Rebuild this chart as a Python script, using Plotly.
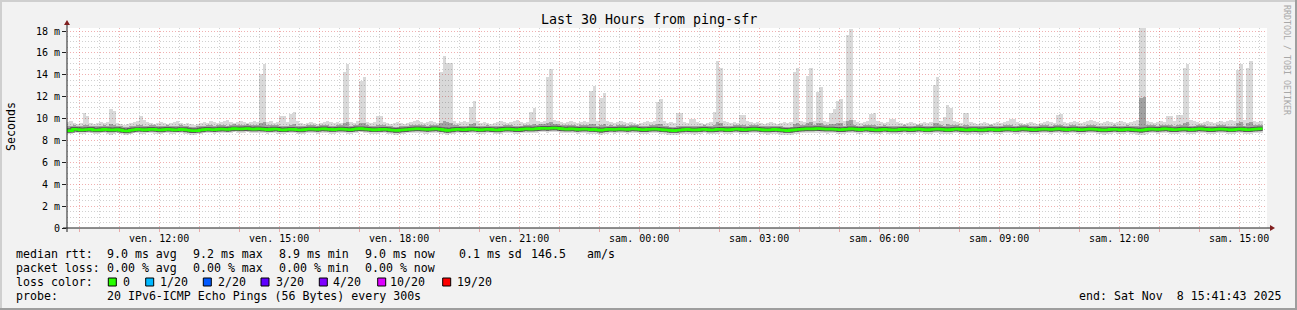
import plotly.graph_objects as go
import pandas as pd

# ---------------- data ----------------
title_text = "Last 30 Hours from ping-sfr"
range_start = "2025-11-07 09:41:43"
range_end = "2025-11-08 15:41:43"
first_bin = "2025-11-07 09:40:00"
step_s = 300

# median rtt per 5-min bin (ms)
med = [
    8.88, 8.90, 9.02, 9.00, 8.97, 8.98, 9.00, 9.02, 8.96, 8.95, 8.97, 9.01, 8.99, 8.96, 8.97, 9.00, 8.94, 8.88, 8.87, 8.93,
    8.98, 9.01, 9.00, 8.97, 8.99, 9.03, 9.01, 8.98, 8.96, 8.99, 9.02, 9.00, 8.97, 8.98, 9.01, 8.99, 8.95, 8.91, 8.88, 8.90,
    8.96, 8.99, 9.02, 9.00, 8.98, 9.01, 9.04, 9.03, 9.00, 9.05, 9.08, 9.06, 9.04, 9.07, 9.09, 9.05, 9.03, 9.06, 9.04, 9.02,
    8.99, 9.01, 9.04, 9.02, 8.98, 8.97, 9.00, 9.02, 9.01, 8.98, 8.96, 8.99, 9.03, 9.05, 9.02, 9.00, 9.04, 9.06, 9.03, 9.01,
    8.99, 9.02, 9.05, 9.03, 9.00, 8.98, 9.02, 9.06, 9.08, 9.05, 9.03, 9.00, 8.97, 8.99, 9.01, 9.03, 9.00, 8.96, 8.93, 8.92,
    8.95, 8.98, 9.00, 9.03, 9.05, 9.07, 9.04, 9.02, 9.00, 9.03, 9.06, 9.04, 9.01, 8.97, 8.92, 8.95, 8.99, 9.02, 9.00, 8.98,
    9.01, 9.04, 9.02, 8.99, 8.97, 9.00, 9.03, 9.01, 8.98, 8.96, 8.99, 9.02, 9.05, 9.03, 9.00, 8.98, 9.01, 9.04, 9.06, 9.03,
    9.05, 9.08, 9.10, 9.12, 9.09, 9.11, 9.14, 9.12, 9.08, 9.05, 9.03, 9.06, 9.04, 9.01, 9.03, 9.05, 9.02, 8.99, 9.01, 8.97,
    8.94, 8.98, 9.01, 9.03, 9.00, 9.02, 9.05, 9.03, 9.01, 9.04, 9.06, 9.03, 9.00, 8.98, 9.01, 9.03, 9.05, 9.02, 9.00, 8.97,
    8.95, 8.92, 8.90, 8.93, 8.96, 8.99, 9.01, 8.98, 8.95, 8.97, 9.00, 9.02, 8.99, 8.96, 8.98, 9.01, 9.03, 9.00, 8.97, 8.99,
    9.02, 9.04, 9.01, 8.98, 9.00, 9.03, 9.05, 9.02, 9.00, 8.97, 8.95, 8.98, 9.01, 8.99, 8.96, 8.93, 8.90, 8.94, 8.97, 9.00,
    9.02, 9.05, 9.07, 9.04, 9.06, 9.09, 9.07, 9.04, 9.02, 9.05, 9.03, 9.00, 8.98, 9.01, 9.03, 9.06, 9.04, 9.01, 8.99, 9.02,
    9.04, 9.01, 8.98, 8.96, 8.99, 9.02, 9.00, 8.97, 8.95, 8.98, 9.01, 9.03, 9.00, 8.98, 9.01, 9.04, 9.02, 8.99, 8.97, 9.00,
    9.03, 9.05, 9.02, 9.00, 8.97, 8.99, 9.02, 9.04, 9.01, 8.98, 8.96, 8.99, 9.01, 8.98, 8.95, 8.97, 9.00, 9.02, 8.99, 8.97,
    9.00, 9.03, 9.05, 9.02, 8.99, 9.01, 9.04, 9.06, 9.03, 9.01, 8.98, 9.00, 9.03, 9.05, 9.02, 9.00, 9.03, 9.06, 9.04, 9.01,
    8.99, 9.02, 9.04, 9.01, 8.98, 9.00, 9.03, 9.05, 9.03, 9.00, 8.97, 8.95, 8.98, 9.01, 9.03, 9.00, 8.97, 8.99, 9.02, 9.00,
    8.98, 8.96, 8.93, 8.97, 9.01, 9.04, 9.02, 9.00, 9.03, 9.06, 9.04, 9.01, 8.98, 9.00, 9.03, 9.05, 9.02, 8.99, 9.01, 9.04,
    9.06, 9.03, 9.01, 8.98, 9.00, 9.03, 9.05, 9.02, 9.00, 8.97, 8.99, 9.02, 9.04, 9.01, 8.98, 9.00, 9.03, 9.05, 9.07,
]

# highest ping per bin (ms)
p_max = [
    9.7, 9.8, 9.6, 9.5, 9.6, 10.5, 10.2, 9.6, 9.5, 9.6, 9.7, 9.6, 9.7, 10.9, 10.7, 9.6, 9.5, 9.4, 9.5, 9.6,
    9.7, 9.8, 10.2, 9.9, 9.7, 9.6, 9.5, 9.6, 9.7, 9.6, 9.5, 9.6, 9.7, 9.8, 9.6, 9.5, 9.6, 9.5, 9.4, 9.5,
    9.6, 9.7, 9.6, 9.8, 9.7, 9.6, 9.7, 9.8, 9.9, 9.7, 9.6, 9.7, 9.8, 9.7, 9.6, 9.7, 9.8, 9.7, 14.1, 15.0,
    9.7, 9.8, 9.6, 9.7, 10.2, 10.2, 9.7, 10.4, 10.6, 9.8, 9.6, 9.5, 9.6, 9.7, 9.6, 9.5, 9.6, 9.7, 9.8, 9.7,
    9.6, 9.7, 9.6, 14.3, 15.0, 9.7, 9.6, 9.8, 13.4, 13.8, 9.7, 9.6, 9.7, 10.2, 10.2, 9.7, 9.6, 9.5, 9.6, 9.7,
    9.6, 9.5, 9.6, 9.7, 9.8, 9.9, 9.7, 9.6, 9.7, 9.8, 9.7, 9.6, 14.3, 15.7, 15.1, 15.1, 9.8, 9.6, 9.7, 9.8,
    9.7, 11.1, 11.6, 9.8, 9.6, 9.7, 9.6, 9.5, 9.6, 9.7, 9.8, 9.7, 9.6, 9.7, 9.8, 9.9, 9.7, 9.6, 9.7, 10.6,
    11.0, 9.8, 9.7, 9.8, 13.8, 14.5, 9.9, 9.8, 9.7, 9.6, 9.7, 9.8, 9.7, 9.6, 9.7, 9.8, 9.7, 12.5, 13.0, 9.8,
    11.9, 12.3, 9.8, 9.7, 9.6, 9.7, 9.8, 9.7, 9.6, 9.7, 9.6, 9.5, 9.6, 9.7, 9.8, 9.7, 9.8, 11.5, 11.8, 9.8,
    9.6, 9.7, 9.6, 10.5, 10.5, 9.7, 9.6, 10.0, 10.0, 9.7, 9.6, 9.5, 9.6, 9.7, 10.6, 15.3, 14.6, 9.8, 9.7, 9.6,
    9.7, 9.6, 10.3, 10.3, 9.8, 9.7, 9.6, 9.7, 9.6, 9.5, 9.6, 9.7, 9.6, 9.5, 9.6, 9.7, 9.6, 9.7, 14.3, 14.6,
    9.8, 9.7, 13.9, 14.6, 9.8, 12.4, 12.9, 9.8, 9.7, 10.5, 10.9, 11.6, 11.8, 9.8, 17.6, 18.2, 9.9, 9.7, 9.6, 9.7,
    9.8, 10.4, 10.5, 9.8, 9.7, 9.6, 9.7, 10.0, 10.0, 9.7, 9.6, 9.5, 9.6, 9.7, 9.6, 9.5, 9.6, 9.7, 9.6, 9.7,
    13.1, 13.8, 9.8, 10.1, 11.2, 11.0, 9.8, 9.7, 9.6, 10.5, 10.5, 9.7, 9.6, 9.5, 9.6, 9.7, 9.6, 9.5, 9.6, 9.7,
    9.6, 9.7, 9.8, 10.0, 10.0, 9.7, 9.6, 9.5, 9.6, 9.7, 9.6, 9.5, 9.6, 9.7, 9.8, 9.7, 9.6, 10.3, 10.4, 9.7,
    9.6, 9.7, 9.8, 9.7, 9.6, 9.7, 9.8, 9.9, 9.8, 9.7, 9.6, 9.7, 9.8, 9.7, 9.6, 9.7, 9.8, 9.7, 9.6, 9.7,
    9.8, 9.9, 18.6, 18.6, 9.8, 9.7, 9.6, 9.7, 9.8, 9.7, 10.2, 10.2, 9.8, 10.3, 10.3, 14.6, 15.0, 9.9, 9.8, 9.7,
    9.6, 9.7, 9.8, 9.7, 9.6, 9.7, 9.8, 9.7, 9.8, 9.9, 9.8, 14.4, 15.0, 9.9, 14.6, 15.3, 9.8, 9.7, 9.8,
]

# lowest ping per bin (ms)
p_min = [
    8.6, 8.6, 8.7, 8.7, 8.6, 8.6, 8.7, 8.7, 8.6, 8.6, 8.7, 8.7, 8.6, 8.5, 8.6, 8.7, 8.6, 8.5, 8.5, 8.6,
    8.7, 8.7, 8.6, 8.6, 8.7, 8.7, 8.6, 8.6, 8.6, 8.7, 8.7, 8.6, 8.6, 8.7, 8.7, 8.6, 8.6, 8.5, 8.5, 8.6,
    8.6, 8.7, 8.7, 8.7, 8.6, 8.7, 8.7, 8.7, 8.7, 8.7, 8.8, 8.7, 8.7, 8.7, 8.8, 8.7, 8.7, 8.7, 8.7, 8.7,
    8.6, 8.7, 8.7, 8.6, 8.6, 8.6, 8.7, 8.7, 8.7, 8.6, 8.6, 8.6, 8.7, 8.7, 8.7, 8.6, 8.7, 8.7, 8.7, 8.6,
    8.6, 8.7, 8.7, 8.7, 8.6, 8.6, 8.7, 8.7, 8.8, 8.7, 8.7, 8.6, 8.6, 8.6, 8.7, 8.7, 8.6, 8.6, 8.5, 8.5,
    8.6, 8.6, 8.7, 8.7, 8.7, 8.7, 8.7, 8.6, 8.6, 8.7, 8.7, 8.7, 8.6, 8.6, 8.5, 8.6, 8.6, 8.7, 8.7, 8.6,
    8.7, 8.7, 8.7, 8.6, 8.6, 8.6, 8.7, 8.7, 8.6, 8.6, 8.6, 8.7, 8.7, 8.7, 8.6, 8.6, 8.7, 8.7, 8.7, 8.7,
    8.7, 8.7, 8.8, 8.8, 8.7, 8.8, 8.8, 8.8, 8.7, 8.7, 8.7, 8.7, 8.7, 8.6, 8.7, 8.7, 8.6, 8.6, 8.6, 8.6,
    8.5, 8.6, 8.6, 8.7, 8.6, 8.7, 8.7, 8.7, 8.6, 8.7, 8.7, 8.7, 8.6, 8.6, 8.6, 8.7, 8.7, 8.7, 8.6, 8.6,
    8.5, 8.5, 8.5, 8.5, 8.6, 8.6, 8.6, 8.6, 8.5, 8.6, 8.6, 8.7, 8.6, 8.6, 8.6, 8.6, 8.7, 8.6, 8.6, 8.6,
    8.7, 8.7, 8.6, 8.6, 8.6, 8.7, 8.7, 8.7, 8.6, 8.6, 8.5, 8.6, 8.6, 8.6, 8.5, 8.5, 8.5, 8.5, 8.6, 8.6,
    8.7, 8.7, 8.7, 8.7, 8.7, 8.7, 8.7, 8.7, 8.6, 8.7, 8.7, 8.6, 8.6, 8.6, 8.7, 8.7, 8.7, 8.6, 8.6, 8.7,
    8.7, 8.6, 8.6, 8.6, 8.6, 8.7, 8.6, 8.6, 8.6, 8.6, 8.6, 8.7, 8.6, 8.6, 8.6, 8.7, 8.7, 8.6, 8.6, 8.6,
    8.7, 8.7, 8.6, 8.6, 8.6, 8.6, 8.7, 8.7, 8.6, 8.6, 8.5, 8.6, 8.6, 8.6, 8.5, 8.6, 8.6, 8.7, 8.6, 8.6,
    8.6, 8.7, 8.7, 8.7, 8.6, 8.6, 8.7, 8.7, 8.7, 8.6, 8.6, 8.6, 8.7, 8.7, 8.7, 8.6, 8.7, 8.7, 8.7, 8.6,
    8.6, 8.7, 8.7, 8.6, 8.6, 8.6, 8.7, 8.7, 8.7, 8.6, 8.6, 8.5, 8.6, 8.6, 8.7, 8.6, 8.6, 8.6, 8.7, 8.6,
    8.6, 8.5, 8.5, 8.5, 8.6, 8.7, 8.7, 8.6, 8.7, 8.7, 8.7, 8.6, 8.6, 8.6, 8.7, 8.7, 8.6, 8.6, 8.6, 8.7,
    8.7, 8.7, 8.6, 8.6, 8.6, 8.7, 8.7, 8.7, 8.6, 8.6, 8.6, 8.7, 8.7, 8.6, 8.6, 8.6, 8.7, 8.7, 8.7,
]

# inner smoke band, lower edge (ms)
q_lo = [
    8.8, 8.8, 8.9, 8.8, 8.8, 8.8, 8.9, 8.9, 8.8, 8.8, 8.8, 8.9, 8.8, 8.8, 8.8, 8.9, 8.8, 8.7, 8.7, 8.8,
    8.8, 8.9, 8.9, 8.8, 8.8, 8.9, 8.9, 8.8, 8.8, 8.8, 8.9, 8.9, 8.8, 8.8, 8.9, 8.8, 8.8, 8.7, 8.7, 8.8,
    8.8, 8.8, 8.9, 8.9, 8.8, 8.9, 8.9, 8.9, 8.8, 8.9, 8.9, 8.9, 8.9, 8.9, 8.9, 8.9, 8.9, 8.9, 8.9, 8.9,
    8.8, 8.8, 8.9, 8.9, 8.8, 8.8, 8.8, 8.9, 8.9, 8.8, 8.8, 8.8, 8.9, 8.9, 8.9, 8.8, 8.9, 8.9, 8.9, 8.8,
    8.8, 8.9, 8.9, 8.9, 8.8, 8.8, 8.9, 8.9, 8.9, 8.9, 8.9, 8.8, 8.8, 8.8, 8.8, 8.9, 8.8, 8.8, 8.7, 8.7,
    8.8, 8.8, 8.8, 8.9, 8.9, 8.9, 8.9, 8.9, 8.8, 8.9, 8.9, 8.9, 8.8, 8.8, 8.7, 8.8, 8.8, 8.9, 8.8, 8.8,
    8.8, 8.9, 8.9, 8.8, 8.8, 8.8, 8.9, 8.8, 8.8, 8.8, 8.8, 8.9, 8.9, 8.9, 8.8, 8.8, 8.8, 8.9, 8.9, 8.9,
    8.9, 8.9, 9.0, 9.0, 8.9, 9.0, 9.0, 9.0, 8.9, 8.9, 8.9, 8.9, 8.9, 8.8, 8.9, 8.9, 8.9, 8.8, 8.8, 8.8,
    8.7, 8.8, 8.8, 8.9, 8.8, 8.9, 8.9, 8.9, 8.8, 8.9, 8.9, 8.9, 8.8, 8.8, 8.8, 8.9, 8.9, 8.9, 8.8, 8.8,
    8.8, 8.7, 8.7, 8.7, 8.8, 8.8, 8.8, 8.8, 8.8, 8.8, 8.8, 8.9, 8.8, 8.8, 8.8, 8.8, 8.9, 8.8, 8.8, 8.8,
    8.9, 8.9, 8.8, 8.8, 8.8, 8.9, 8.9, 8.9, 8.8, 8.8, 8.8, 8.8, 8.8, 8.8, 8.8, 8.7, 8.7, 8.7, 8.8, 8.8,
    8.9, 8.9, 8.9, 8.9, 8.9, 8.9, 8.9, 8.9, 8.9, 8.9, 8.9, 8.8, 8.8, 8.8, 8.9, 8.9, 8.9, 8.8, 8.8, 8.9,
    8.9, 8.8, 8.8, 8.8, 8.8, 8.9, 8.8, 8.8, 8.8, 8.8, 8.8, 8.9, 8.8, 8.8, 8.8, 8.9, 8.9, 8.8, 8.8, 8.8,
    8.9, 8.9, 8.9, 8.8, 8.8, 8.8, 8.9, 8.9, 8.8, 8.8, 8.8, 8.8, 8.8, 8.8, 8.8, 8.8, 8.8, 8.9, 8.8, 8.8,
    8.8, 8.9, 8.9, 8.9, 8.8, 8.8, 8.9, 8.9, 8.9, 8.8, 8.8, 8.8, 8.9, 8.9, 8.9, 8.8, 8.9, 8.9, 8.9, 8.8,
    8.8, 8.9, 8.9, 8.8, 8.8, 8.8, 8.9, 8.9, 8.9, 8.8, 8.8, 8.8, 8.8, 8.8, 8.9, 8.8, 8.8, 8.8, 8.9, 8.8,
    8.8, 8.8, 8.7, 8.8, 8.8, 8.9, 8.9, 8.8, 8.9, 8.9, 8.9, 8.8, 8.8, 8.8, 8.9, 8.9, 8.8, 8.8, 8.8, 8.9,
    8.9, 8.9, 8.8, 8.8, 8.8, 8.9, 8.9, 8.9, 8.8, 8.8, 8.8, 8.9, 8.9, 8.8, 8.8, 8.8, 8.9, 8.9, 8.9,
]

# inner smoke band, upper edge (ms)
q_hi = [
    9.3, 9.3, 9.4, 9.3, 9.3, 9.4, 9.4, 9.3, 9.3, 9.3, 9.3, 9.4, 9.3, 9.5, 9.4, 9.3, 9.3, 9.2, 9.2, 9.3,
    9.3, 9.4, 9.4, 9.3, 9.3, 9.4, 9.4, 9.3, 9.3, 9.3, 9.4, 9.3, 9.3, 9.3, 9.4, 9.3, 9.3, 9.2, 9.2, 9.3,
    9.3, 9.3, 9.4, 9.4, 9.3, 9.4, 9.4, 9.4, 9.3, 9.4, 9.5, 9.4, 9.4, 9.4, 9.5, 9.4, 9.4, 9.4, 9.6, 9.7,
    9.4, 9.4, 9.4, 9.4, 9.3, 9.3, 9.3, 9.4, 9.5, 9.3, 9.3, 9.3, 9.4, 9.4, 9.4, 9.3, 9.4, 9.4, 9.4, 9.3,
    9.3, 9.4, 9.4, 9.6, 9.7, 9.3, 9.4, 9.4, 9.6, 9.6, 9.4, 9.3, 9.3, 9.4, 9.4, 9.4, 9.3, 9.3, 9.2, 9.2,
    9.3, 9.3, 9.3, 9.4, 9.4, 9.4, 9.4, 9.4, 9.3, 9.4, 9.4, 9.4, 9.6, 9.8, 9.7, 9.6, 9.4, 9.4, 9.3, 9.3,
    9.3, 9.5, 9.6, 9.3, 9.3, 9.3, 9.4, 9.3, 9.3, 9.3, 9.3, 9.4, 9.4, 9.4, 9.3, 9.3, 9.3, 9.4, 9.4, 9.4,
    9.5, 9.4, 9.5, 9.5, 9.6, 9.7, 9.5, 9.5, 9.4, 9.4, 9.4, 9.4, 9.4, 9.3, 9.4, 9.4, 9.4, 9.5, 9.5, 9.3,
    9.4, 9.5, 9.3, 9.4, 9.3, 9.4, 9.4, 9.4, 9.3, 9.4, 9.4, 9.4, 9.3, 9.3, 9.3, 9.4, 9.4, 9.5, 9.5, 9.3,
    9.3, 9.2, 9.2, 9.3, 9.3, 9.3, 9.3, 9.3, 9.3, 9.3, 9.3, 9.4, 9.3, 9.3, 9.4, 9.7, 9.6, 9.3, 9.3, 9.3,
    9.4, 9.4, 9.4, 9.4, 9.3, 9.4, 9.4, 9.4, 9.3, 9.3, 9.3, 9.3, 9.3, 9.3, 9.3, 9.2, 9.2, 9.2, 9.5, 9.6,
    9.4, 9.4, 9.6, 9.7, 9.4, 9.6, 9.6, 9.4, 9.4, 9.5, 9.5, 9.6, 9.6, 9.3, 9.8, 9.9, 9.4, 9.3, 9.3, 9.4,
    9.4, 9.4, 9.4, 9.3, 9.3, 9.4, 9.3, 9.3, 9.3, 9.3, 9.3, 9.4, 9.3, 9.3, 9.3, 9.4, 9.4, 9.3, 9.3, 9.3,
    9.6, 9.6, 9.4, 9.3, 9.5, 9.4, 9.4, 9.4, 9.3, 9.4, 9.4, 9.3, 9.3, 9.3, 9.3, 9.3, 9.3, 9.4, 9.3, 9.3,
    9.3, 9.4, 9.4, 9.4, 9.3, 9.3, 9.4, 9.4, 9.4, 9.3, 9.3, 9.3, 9.4, 9.4, 9.4, 9.3, 9.4, 9.4, 9.4, 9.3,
    9.3, 9.4, 9.4, 9.3, 9.3, 9.3, 9.4, 9.4, 9.4, 9.3, 9.3, 9.3, 9.3, 9.3, 9.4, 9.3, 9.3, 9.3, 9.4, 9.3,
    9.3, 9.3, 11.9, 12.0, 9.4, 9.4, 9.4, 9.3, 9.4, 9.4, 9.4, 9.4, 9.3, 9.4, 9.4, 9.6, 9.7, 9.3, 9.3, 9.4,
    9.4, 9.4, 9.3, 9.3, 9.3, 9.4, 9.4, 9.4, 9.3, 9.3, 9.3, 9.6, 9.7, 9.3, 9.6, 9.7, 9.4, 9.4, 9.4,
]

y_ticks = [0, 2, 4, 6, 8, 10, 12, 14, 16, 18]
y_tick_text = ["0", "2 m", "4 m", "6 m", "8 m", "10 m", "12 m", "14 m", "16 m", "18 m"]
day_names = {7: "ven.", 8: "sam."}

rtt_label = "median rtt:"
rtt_stats = ["9.0 ms avg", "9.2 ms max", "8.9 ms min", "9.0 ms now", "0.1 ms sd", "146.5", "am/s"]
loss_label = "packet loss:"
loss_stats = ["0.00 % avg", "0.00 % max", "0.00 % min", "0.00 % now"]
color_label = "loss color:"
loss_names = ["0", "1/20", "2/20", "3/20", "4/20", "10/20", "19/20"]
loss_colors = ["#26ff00", "#00b8ff", "#0059ff", "#5e00ff", "#7e00ff", "#dd00ff", "#ff0000"]
probe_label = "probe:"
probe_text = "20 IPv6-ICMP Echo Pings (56 Bytes) every 300s"
end_text = "end: Sat Nov  8 15:41:43 2025"
y_title = "Seconds"
watermark = "RRDTOOL / TOBI OETIKER"

# ---------------- derived ----------------
n = len(med)
bin_start = pd.date_range(first_bin, periods=n, freq="5min")
bin_mid = bin_start + pd.Timedelta(seconds=step_s / 2)
fmt = "%Y-%m-%d %H:%M:%S"
x_mid = [t.strftime(fmt) for t in bin_mid]
x_edges = [t.strftime(fmt) for t in bin_start] + [(bin_start[-1] + pd.Timedelta(seconds=step_s)).strftime(fmt)]
med_step = list(med) + [med[-1]]

hours = pd.date_range("2025-11-07 10:00", "2025-11-08 15:00", freq="h")
x_tickvals = [t.strftime(fmt) for t in hours]
x_ticktext = [f"{day_names[t.day]} {t:%H:%M}" if t.hour % 3 == 0 else "" for t in hours]
halfs = pd.date_range("2025-11-07 10:30", "2025-11-08 15:30", freq="h")
x_minor = [t.strftime(fmt) for t in halfs]
y_minor = [v / 2 for v in range(1, 37) if v % 4 != 0]

# ---------------- geometry (pixels) ----------------
W, H = 1297, 310
L, R, T, B = 67, 30, 28, 82
PW, PH = W - L - R, H - T - B
y_top = PH / 10.944


def px(x):
    return (x - L) / PW


def py(y):
    return (H - B - y) / PH


MONO = "DejaVu Sans Mono"
MGRID = "rgba(222,79,79,0.45)"
GRID = "rgba(143,143,143,0.42)"
DASH = "1px,2px"

fig = go.Figure()
fig.add_trace(go.Bar(x=x_mid, y=[a - b for a, b in zip(p_max, p_min)], base=p_min,
                     width=step_s * 1000, marker=dict(color="rgba(0,0,0,0.15)", line=dict(width=0)),
                     hoverinfo="skip"))
fig.add_trace(go.Bar(x=x_mid, y=[a - b for a, b in zip(q_hi, q_lo)], base=q_lo,
                     width=step_s * 1000, marker=dict(color="rgba(0,0,0,0.26)", line=dict(width=0)),
                     hoverinfo="skip"))
fig.add_trace(go.Scatter(x=x_edges, y=med_step, mode="lines",
                         line=dict(shape="hv", color="rgba(30,30,30,0.55)", width=4.5), hoverinfo="skip"))
fig.add_trace(go.Scatter(x=x_edges, y=med_step, mode="lines",
                         line=dict(shape="hv", color=loss_colors[0], width=2.6), hoverinfo="skip"))

fig.update_layout(
    width=W, height=H, showlegend=False, barmode="overlay", bargap=0,
    margin=dict(l=L, r=R, t=T, b=B, pad=0),
    paper_bgcolor="#f2f2f2", plot_bgcolor="#ffffff",
    font=dict(family=MONO, color="#000000"),
    xaxis=dict(type="date", range=[range_start, range_end], tickmode="array",
               tickvals=x_tickvals, ticktext=x_ticktext,
               showgrid=True, gridcolor=MGRID, gridwidth=1, griddash=DASH,
               ticks="outside", ticklen=3, tickcolor=MGRID, showline=False, zeroline=False,
               tickfont=dict(family=MONO, size=10, color="#000"), ticklabelstandoff=-2),
    xaxis2=dict(type="date", range=[range_start, range_end], overlaying="x", tickmode="array",
                tickvals=x_minor, showgrid=True, gridcolor=GRID, gridwidth=1, griddash=DASH,
                showticklabels=False, ticks="", showline=False, zeroline=False),
    yaxis=dict(range=[0, y_top], tickmode="array", tickvals=y_ticks, ticktext=y_tick_text,
               showgrid=True, gridcolor=MGRID, gridwidth=1, griddash=DASH,
               ticks="outside", ticklen=4, tickcolor="#1f1f1f", showline=False, zeroline=False,
               tickfont=dict(family=MONO, size=10, color="#000")),
    yaxis2=dict(range=[0, y_top], overlaying="y", tickmode="array", tickvals=y_minor,
                showgrid=True, gridcolor=GRID, gridwidth=1, griddash=DASH,
                showticklabels=False, ticks="", showline=False, zeroline=False),
)
# invisible anchor trace so the minor-grid axes are drawn
fig.add_trace(go.Scatter(x=[range_start], y=[0], xaxis="x2", yaxis="y2", mode="markers",
                         marker=dict(opacity=0), hoverinfo="skip"))

shapes = []
# frame
shapes.append(dict(type="rect", xref="paper", yref="paper", x0=px(0), x1=px(W), y0=py(0), y1=py(2),
                   fillcolor="#cfcfcf", line=dict(width=0), layer="above"))
shapes.append(dict(type="rect", xref="paper", yref="paper", x0=px(0), x1=px(2), y0=py(0), y1=py(H),
                   fillcolor="#cfcfcf", line=dict(width=0), layer="above"))
shapes.append(dict(type="rect", xref="paper", yref="paper", x0=px(0), x1=px(W), y0=py(H - 2), y1=py(H),
                   fillcolor="#9e9e9e", line=dict(width=0), layer="above"))
shapes.append(dict(type="rect", xref="paper", yref="paper", x0=px(W - 2), x1=px(W), y0=py(0), y1=py(H),
                   fillcolor="#9e9e9e", line=dict(width=0), layer="above"))
# axes with arrows
shapes.append(dict(type="line", xref="paper", yref="paper", x0=px(L - 4), x1=px(L + PW + 4), y0=0, y1=0,
                   line=dict(color="#1f1f1f", width=1), layer="above"))
shapes.append(dict(type="line", xref="paper", yref="paper", x0=0, x1=0, y0=py(H - B + 4), y1=py(T - 5),
                   line=dict(color="#1f1f1f", width=1), layer="above"))
shapes.append(dict(type="path", xref="paper", yref="paper",
                   path=f"M {px(L - 3)} {py(T - 3)} L {px(L)} {py(T - 8)} L {px(L + 3)} {py(T - 3)} Z",
                   fillcolor="#801f1f", line=dict(width=0), layer="above"))
shapes.append(dict(type="path", xref="paper", yref="paper",
                   path=f"M {px(L + PW + 3)} {py(H - B - 3)} L {px(L + PW + 8)} {py(H - B)} L {px(L + PW + 3)} {py(H - B + 3)} Z",
                   fillcolor="#801f1f", line=dict(width=0), layer="above"))

annotations = []


def text(x, y, s, size=11.6, anchor="left", color="#000", angle=0):
    annotations.append(dict(xref="paper", yref="paper", x=px(x), y=py(y), text=s.replace(" ", "\u00a0"),
                            showarrow=False, xanchor=anchor, yanchor="middle", borderpad=0, borderwidth=0,
                            textangle=angle, font=dict(family=MONO, size=size, color=color)))


text(648.5, 19, title_text, size=13.3, anchor="center")
text(11, 127, y_title, size=11.6, anchor="center", angle=-90)
text(1287, 60, watermark, size=8.3, anchor="center", color="#a8a8a8", angle=90)

cols = [107.3, 193.3, 279.3, 365.3, 459.0, 530.7, 586.7]
text(16, 254, rtt_label)
for cx, s in zip(cols, rtt_stats):
    text(cx, 254, s)
text(16, 268, loss_label)
for cx, s in zip(cols, loss_stats):
    text(cx, 268, s)
text(16, 282, color_label)
box_x = [108.3, 145.7, 203.3, 261.0, 319.3, 377.7, 442.7]
lab_x = [123.0, 160.3, 218.0, 275.7, 333.0, 390.0, 456.7]
for bx, lx, name, col in zip(box_x, lab_x, loss_names, loss_colors):
    shapes.append(dict(type="rect", xref="paper", yref="paper", x0=px(bx), x1=px(bx + 8), y0=py(278), y1=py(286),
                       fillcolor=col, line=dict(color="#000", width=1), layer="above"))
    text(lx, 282, name)
text(16, 296, probe_label)
text(107.3, 296, probe_text)
text(1281, 296, end_text, anchor="right")

fig.update_layout(shapes=shapes, annotations=annotations)
fig.write_html("out.html", include_plotlyjs=True, config={"displayModeBar": False})
